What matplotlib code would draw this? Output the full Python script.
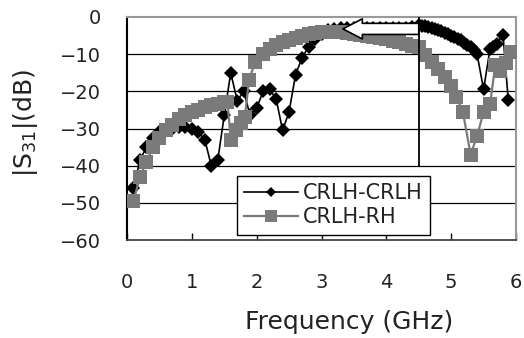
import matplotlib
matplotlib.use('Agg')
import matplotlib.pyplot as plt

# CRLH-CRLH (black diamonds)
f_cc = [0.1, 0.2, 0.3, 0.4, 0.5, 0.6, 0.7, 0.8, 0.9, 1.0,
        1.1, 1.2, 1.3, 1.4, 1.5, 1.6, 1.7, 1.8, 1.9, 2.0,
        2.1, 2.2, 2.3, 2.4, 2.5, 2.6, 2.7, 2.8, 2.9, 3.0,
        3.1, 3.2, 3.3, 3.4, 3.5, 3.6, 3.7, 3.8, 3.9, 4.0,
        4.1, 4.2, 4.3, 4.4, 4.5, 4.55, 4.6, 4.65, 4.7, 4.75,
        4.8, 4.85, 4.9, 4.95, 5.0, 5.05, 5.1, 5.15, 5.2, 5.25,
        5.3, 5.35, 5.4, 5.5, 5.6, 5.65, 5.7, 5.8, 5.88]
s_cc = [-46, -38.5, -35, -32.5, -31, -30.5, -30, -29.5, -29.5, -30,
        -31, -33, -40, -38.5, -26.5, -15, -22.5, -20, -26.5, -24.5,
        -20, -19.5, -22, -30.5, -25.5, -15.5, -11, -8, -6, -4.5,
        -3.6, -3.2, -3.0, -2.9, -2.9, -2.9, -2.9, -2.9, -2.9, -2.9,
        -2.9, -2.9, -2.9, -2.8, -2.2, -2.3, -2.5, -2.7, -3.0, -3.3,
        -3.6, -3.9, -4.2, -4.6, -5.0, -5.4, -5.8, -6.3, -6.9, -7.5,
        -8.2, -9.0, -10.0, -19.5, -8.5, -8.0, -7.2, -4.8, -22.3]

# CRLH-RH (gray squares)
f_cr = [0.1, 0.2, 0.3, 0.4, 0.5, 0.6, 0.7, 0.8, 0.9, 1.0,
        1.1, 1.2, 1.3, 1.4, 1.5, 1.55, 1.6, 1.68, 1.76, 1.82,
        1.88, 1.98, 2.1, 2.2, 2.3, 2.4, 2.5, 2.6, 2.7, 2.8,
        2.9, 3.0, 3.1, 3.2, 3.3, 3.4, 3.5, 3.6, 3.7, 3.8,
        3.9, 4.0, 4.1, 4.2, 4.3, 4.4, 4.5, 4.6, 4.7, 4.8,
        4.9, 5.0, 5.08, 5.18, 5.3, 5.4, 5.5, 5.6, 5.68, 5.76,
        5.84, 5.93]
s_cr = [-49.5, -43, -39, -35, -32.5, -30.5, -29, -27.5, -26.5, -25.5,
        -25, -24.3, -23.8, -23.3, -23, -22.8, -33, -30.5, -28.5, -26.8,
        -17, -12, -10, -8.5, -7.5, -6.8, -6.2, -5.6, -5.1, -4.7,
        -4.3, -4.1, -4.0, -4.0, -4.1, -4.3, -4.5, -4.8, -5.1, -5.4,
        -5.7, -6.0, -6.4, -6.8, -7.3, -7.7, -8.2, -10.3, -12, -14,
        -16.2, -18.5, -21.5, -25.5, -37, -32, -25.5, -23.5, -13, -14.5,
        -12.5, -9.3]

xticks = [0, 1, 2, 3, 4, 5, 6]
yticks = [0, -10, -20, -30, -40, -50, -60]

fig = plt.figure(figsize=(5.24, 3.38), dpi=100)
ax = fig.add_axes([127/524, 1-240/338, 389/524, 223/338])

for y in yticks[1:-1]:
    ax.axhline(y, color='black', lw=0.9, zorder=1)

ax.plot(f_cc, s_cc, color='black', lw=1.2, marker='D', ms=7,
        mec='black', mew=0, label='CRLH-CRLH', zorder=3)
ax.plot(f_cr, s_cr, color='#7a7a7a', lw=1.6, marker='s', ms=10.5,
        mec='#7a7a7a', mew=0, label='CRLH-RH', zorder=4)

ax.plot([4.5, 4.5], [0, -40], color='black', lw=1.3, zorder=5)
ax.annotate('', xy=(3.33, -3.2), xytext=(4.5, -3.2),
            arrowprops=dict(arrowstyle='simple,head_length=1.4,head_width=1.45,tail_width=0.8',
                            mutation_scale=10, fc='white', ec='black', lw=1.2,
                            shrinkA=0, shrinkB=0), zorder=6)

ax.set_xlim(0, 6)
ax.set_ylim(-60, 0)
ax.set_xticks(xticks)
ax.set_yticks(yticks)
ax.set_yticklabels(['0', '\u221210', '\u221220', '\u221230', '\u221240', '\u221250', '\u221260'])
ax.tick_params(axis='x', direction='in', length=5, width=1, pad=24,
               labelsize=14, labelcolor='#222222')
ax.tick_params(axis='y', length=0, pad=19, labelsize=14, labelcolor='#222222')

ax.spines['left'].set_color('black')
ax.spines['left'].set_linewidth(1.5)
ax.spines['bottom'].set_color('#444444')
ax.spines['bottom'].set_linewidth(1.3)
ax.spines['top'].set_color('#999999')
ax.spines['top'].set_linewidth(1.5)
ax.spines['right'].set_color('#999999')
ax.spines['right'].set_linewidth(1.5)

leg = ax.legend(loc='upper left', bbox_to_anchor=((237-127)/389, (240-176)/223),
                borderaxespad=0, fontsize=15, handlelength=2.6, handletextpad=0.2,
                labelspacing=0.2, borderpad=0.35, fancybox=False, framealpha=1,
                edgecolor='black', numpoints=1)
leg.get_frame().set_linewidth(1.0)
leg.set_zorder(7)
for t in leg.get_texts():
    t.set_color('#222222')
leg.get_lines()[0].set_markersize(5.5)
leg.get_lines()[1].set_markersize(9)

fig.text(349/524, 1-322/338, 'Frequency (GHz)', ha='center', va='center',
         fontsize=18, color='#222222')
fig.text(25/524, 1-123/338, r'|S$_{31}$|(dB)', ha='center', va='center',
         rotation=90, fontsize=18, color='#222222')

fig.savefig('out.png', dpi=100)
